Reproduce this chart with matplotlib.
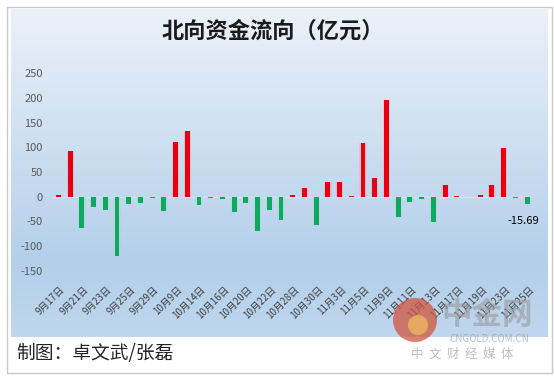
import numpy as np
import matplotlib
matplotlib.use("Agg")
import matplotlib.pyplot as plt
from matplotlib.patches import Rectangle, Circle
from matplotlib.colors import LinearSegmentedColormap

plt.rcParams['font.family'] = ['Noto Sans CJK SC', 'DejaVu Sans']

dates = ["9月17日", "9月18日", "9月21日", "9月22日", "9月23日", "9月24日", "9月25日", "9月28日",
         "9月29日", "9月30日", "10月9日", "10月13日", "10月14日", "10月15日", "10月16日", "10月19日",
         "10月20日", "10月21日", "10月22日", "10月23日", "10月28日", "10月29日", "10月30日", "11月2日",
         "11月3日", "11月4日", "11月5日", "11月6日", "11月9日", "11月10日", "11月11日", "11月12日",
         "11月13日", "11月16日", "11月17日", "11月18日", "11月19日", "11月20日", "11月23日", "11月24日",
         "11月25日"]
values = [4, 93, -64, -20, -28, -121, -14, -12, -3, -30,
          111, 134, -16, -2, -5, -32, -12, -69, -28, -47,
          4, 18, -57, 30, 30, 2, 109, 38, 196, -42,
          -10, -5, -51, 24, 2, 0, 4, 24, 99, -2,
          -15.69]
yticks = [-150, -100, -50, 0, 50, 100, 150, 200, 250]
title = "北向资金流向（亿元）"
credit = "制图：卓文武/张磊"

W, H = 554, 381
fig = plt.figure(figsize=(W / 100, H / 100), dpi=100)
fig.patch.set_facecolor("white")

def fx(px):
    return px / W

def fy(py):
    return 1 - py / H

# outer border
fig.patches.append(Rectangle((fx(7), fy(373)), fx(545), 366 / H, transform=fig.transFigure,
                             fill=False, edgecolor="#c8c8c8", lw=1.0))

# gradient background
bg = fig.add_axes([fx(11), fy(337), fx(537), (337 - 9) / H])
cmap = LinearSegmentedColormap.from_list("bg", [(0, "#bfd7ee"), (0.22, "#b3cfea"), (1.0, "#ebf1f9")])
grad = np.linspace(0, 1, 256).reshape(-1, 1)
bg.imshow(grad, aspect="auto", cmap=cmap, origin="lower", extent=[0, 1, 0, 1])
bg.set_axis_off()

# main axes
left = 52.6
right = 532.9
top = 73.3
bottom = 270.7
ax = fig.add_axes([fx(left), fy(bottom), fx(right - left), (bottom - top) / H])
ax.patch.set_alpha(0)

x = np.arange(len(values))
colors = ["#e60012" if v >= 0 else "#0fa860" for v in values]
# glow
ax.bar(x, values, width=0.62, color=["#f4a0a8" if v >= 0 else "#a8dcc0" for v in values], alpha=0.35, zorder=2)
ax.bar(x, values, width=0.42, color=colors, zorder=3)

ax.set_xlim(-0.5, len(values) - 0.5)
ax.set_ylim(-150, 250)
ax.set_yticks(yticks)
ax.set_yticklabels([str(t) for t in yticks], fontsize=8, color="#595959")
ax.tick_params(axis="y", length=0, pad=7)

for s in ax.spines.values():
    s.set_visible(False)
ax.axhline(0, color="#d8e2ec", lw=0.8, zorder=1)
ax.set_xticks(x)
ax.set_xticklabels(["" for _ in x])
ax.tick_params(axis="x", length=0)

# x labels (every other category) rotated
for i in range(0, len(dates), 2):
    ax.annotate(dates[i], xy=(i, -150), xycoords="data", xytext=(1, -10), textcoords="offset points",
                rotation=45, ha="right", va="top", fontsize=7, color="#404040",
                rotation_mode="anchor")

# data label on last bar
ax.annotate(f"{values[-1]:.2f}", xy=(len(values) - 1, values[-1]), xytext=(-3, -8),
            textcoords="offset points", ha="center", va="top", fontsize=8, color="#000000")

fig.text(fx(273), fy(31), title, ha="center", va="center", fontsize=16, fontweight="bold", color="#1a1a1a")
fig.text(fx(16), fy(353), credit, ha="left", va="center", fontsize=13.5, color="#262626")

# watermark
wm = fig.add_axes([0, 0, 1, 1])
wm.set_xlim(0, W)
wm.set_ylim(H, 0)
wm.set_axis_off()
wm.patch.set_alpha(0)
wm.add_patch(Circle((415, 320), 22, color="#d2553f", alpha=0.75, lw=0))
wm.add_patch(Circle((418, 325), 10, color="#f0c060", alpha=0.7, lw=0))
wm.text(487, 315, "中金网", ha="center", va="center", fontsize=22, fontweight="bold", color="#9a9a9a", alpha=0.6)
wm.text(489, 339, "CNGOLD.COM.CN", ha="center", va="center", fontsize=7, color="#a0a0a0", alpha=0.7)
wm.text(462, 354, "中  文  财  经  媒  体", ha="center", va="center", fontsize=9, color="#b0b0b0", alpha=0.8)

fig.savefig("out.png", dpi=100)
